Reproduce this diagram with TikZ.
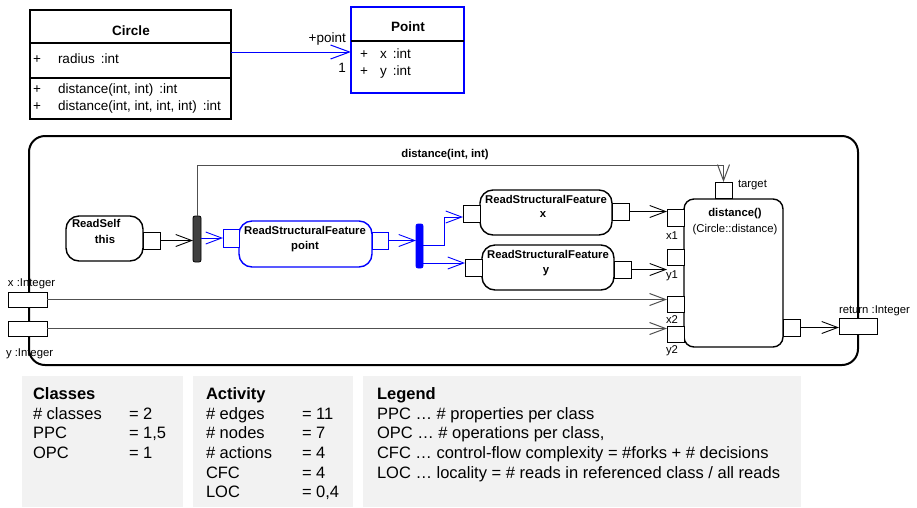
\documentclass[tikz,border=0pt]{standalone}
\usepackage{fontspec}
\setmainfont{Liberation Sans}
\usetikzlibrary{arrows.meta}
\newcommand\fszA{\fontsize{13.5pt}{16pt}\selectfont}
\newcommand\fszB{\fontsize{11.3pt}{13pt}\selectfont}
\newcommand\fszC{\fontsize{16.5pt}{19pt}\selectfont}
\definecolor{panel}{HTML}{F2F2F2}
\definecolor{edgegray}{HTML}{505050}
\definecolor{forkgray}{HTML}{404040}
\definecolor{umlblue}{HTML}{0000FF}
\begin{document}
\begin{tikzpicture}[x=1pt,y=-1pt,
  box/.style={draw, inner sep=0pt, outer sep=0pt, anchor=north west},
  cls/.style={box, line width=1.2pt},
  action/.style={box, line width=1.4pt, rounded corners=13pt},
  pin/.style={box, fill=white, line width=0.9pt},
  fork/.style={box, line width=0.8pt, rounded corners=2pt},
  txt/.style={inner sep=0pt, outer sep=0pt, anchor=base west},
  ctxt/.style={inner sep=0pt, outer sep=0pt, anchor=base},
  arr/.style={-{Straight Barb[length=16pt,width=12pt]}, line width=0.9pt},
  longarr/.style={arr, draw=edgegray, line width=1pt},
  fa/.style={font=\fszA},
  fab/.style={font=\fszA\bfseries},
  fb/.style={font=\fszB},
  fbb/.style={font=\fszB\bfseries},
  fc/.style={font=\fszC},
  fcb/.style={font=\fszC\bfseries}]
\useasboundingbox (0,0) rectangle (917,507);

% ---------------- class diagram ----------------
\node[cls, minimum width=201pt, minimum height=109pt] (circle) at (30,10) {};
\draw[line width=1.2pt] ([yshift=-33pt]circle.north west) -- ([yshift=-33pt]circle.north east);
\draw[line width=1.2pt] ([yshift=-68pt]circle.north west) -- ([yshift=-68pt]circle.north east);
\node[ctxt, fab] (circleT) at (131,35) {Circle};
\node[txt, fa] (c1p) at (33,63) {+};
\node[txt, fa] (c1) at (58,63) {radius\hspace{6pt}:int};
\node[txt, fa] (c2p) at (33,93) {+};
\node[txt, fa] (c2) at (58,93) {distance(int, int)\hspace{6pt}:int};
\node[txt, fa] (c3p) at (33,110) {+};
\node[txt, fa] (c3) at (58,110) {distance(int, int, int, int)\hspace{6pt}:int};

\node[cls, draw=umlblue, minimum width=113pt, minimum height=86pt] (point) at (351,7) {};
\draw[line width=1.2pt] ([yshift=-34pt]point.north west) -- ([yshift=-34pt]point.north east);
\node[ctxt, fab] (pointT) at (408,31) {Point};
\node[txt, fa] (p1p) at (360,58) {+};
\node[txt, fa] (p1) at (380,58) {x\hspace{6pt}:int};
\node[txt, fa] (p2p) at (360,75) {+};
\node[txt, fa] (p2) at (380,75) {y\hspace{6pt}:int};

\coordinate (assocL) at (231,52);
\draw[-{Straight Barb[length=19pt,width=14pt]}, umlblue, line width=1pt] (assocL) -- (assocL -| point.west);
\node[inner sep=0pt, anchor=base east, fa] (roleT) at (346,42) {+point};
\node[inner sep=0pt, anchor=base east, fa] (multT) at (346,72) {1};

% ---------------- activity ----------------
\node[box, line width=2pt, rounded corners=16pt, minimum width=829pt, minimum height=229pt] (frame) at (29,136) {};
\node[ctxt, fbb] (actT) at (445,157) {distance(int, int)};

\node[action, minimum width=77pt, minimum height=45pt] (readself) at (66,216) {};
\node[action, draw=umlblue, minimum width=133pt, minimum height=46pt] (rsfp) at (239,221) {};
\node[action, minimum width=132pt, minimum height=45pt] (rsfx) at (480,190) {};
\node[action, minimum width=132pt, minimum height=45pt] (rsfy) at (482,245) {};
\node[action, rounded corners=10pt, minimum width=99pt, minimum height=148pt] (dist) at (684,199) {};

\node[fork, fill=forkgray, minimum width=8pt, minimum height=46pt] (fork1) at (193,216) {};
\node[fork, draw=umlblue, fill=umlblue, minimum width=7pt, minimum height=44pt] (fork2) at (416,224) {};

% pins
\node[pin, minimum width=17pt, minimum height=17pt] (rsPin) at (143,232) {};
\node[pin, draw=umlblue, minimum width=16pt, minimum height=18pt] (rpIn) at (223,229) {};
\node[pin, draw=umlblue, minimum width=16pt, minimum height=17pt] (rpOut) at (372,232) {};
\node[pin, minimum width=17pt, minimum height=17pt] (rxIn) at (463,205) {};
\node[pin, minimum width=17pt, minimum height=17pt] (rxOut) at (612,203) {};
\node[pin, minimum width=17pt, minimum height=17pt] (ryIn) at (465,259) {};
\node[pin, minimum width=17pt, minimum height=17pt] (ryOut) at (614,261) {};
\node[pin, minimum width=17pt, minimum height=16pt] (target) at (715,182) {};
\node[pin, minimum width=17pt, minimum height=17pt] (x1) at (667,209) {};
\node[pin, minimum width=17pt, minimum height=16pt] (y1) at (667,249) {};
\node[pin, minimum width=17pt, minimum height=16pt] (x2) at (667,296) {};
\node[pin, minimum width=17pt, minimum height=16pt] (y2) at (667,326) {};
\node[pin, minimum width=17pt, minimum height=17pt] (dOut) at (783,319) {};
\node[pin, minimum width=38pt, minimum height=16pt] (ret) at (839,318) {};
\node[pin, minimum width=39pt, minimum height=15pt] (xIn) at (8,292) {};
\node[pin, minimum width=39pt, minimum height=15pt] (yIn) at (8,321) {};

% connectors
\coordinate (topline) at (0,165);
\coordinate (brX) at (444,245);
\coordinate (rxY) at (0,217);
\coordinate (ryY) at (0,263);
\draw[arr] (rsPin.east) -- (rsPin.east -| fork1.west);
\draw[longarr] (fork1.north) -- (fork1.north |- topline) -| (target.north);
\draw[arr, umlblue] (fork1.east |- rpIn) -- (rpIn.west);
\draw[arr, umlblue] (rpOut.east) -- (rpOut.east -| fork2.west);
\draw[arr, umlblue] (fork2.east |- brX) -- (brX) |- (rxIn.west |- rxY);
\draw[arr, umlblue] (fork2.east |- ryY) -- (ryIn.west |- ryY);
\draw[arr] (rxOut.east) -- (rxOut.east -| x1.west);
\draw[arr] (ryOut.east) -- (ryOut.east -| y1.west);
\draw[longarr] (xIn.east) -- (xIn.east -| x2.west);
\draw[longarr] (yIn.east) -- (yIn.east -| y2.west);
\draw[arr] (dOut.east) -- (dOut.east -| ret.west);

% action texts
\node[txt, fbb] (rsT1) at (72,227) {ReadSelf};
\node[ctxt, fbb] (rsT2) at (105,243) {this};
\node[ctxt, fbb] (rpT1) at (305,234) {ReadStructuralFeature};
\node[ctxt, fbb] (rpT2) at (305,249) {point};
\node[ctxt, fbb] (rxT1) at (546,203) {ReadStructuralFeature};
\node[ctxt, fbb] (rxT2) at (543,217) {x};
\node[ctxt, fbb] (ryT1) at (548,258) {ReadStructuralFeature};
\node[ctxt, fbb] (ryT2) at (546,273) {y};
\node[ctxt, fbb] (dT1) at (735,216) {distance()};
\node[ctxt, fb] (dT2) at (735,232) {(Circle::distance)};

% pin labels
\node[txt, fb] (targetL) at (738,187) {target};
\node[txt, fb] (x1L) at (666,239) {x1};
\node[txt, fb] (y1L) at (666,278) {y1};
\node[txt, fb] (x2L) at (666,323) {x2};
\node[txt, fb] (y2L) at (666,353) {y2};
\node[txt, fb] (retL) at (839,313) {return :Integer};
\node[txt, fb] (xInL) at (8,286) {x :Integer};
\node[txt, fb] (yInL) at (6,356) {y :Integer};

% ---------------- metric panels ----------------
\fill[panel] (22,376) rectangle (183,507);
\fill[panel] (193,376) rectangle (353,507);
\fill[panel] (363,376) rectangle (801,507);

\node[txt, fcb] (clsH) at (33,399) {Classes};
\node[txt, fc] (clsA) at (33,419) {\# classes};
\node[txt, fc] (clsAv) at (129,419) {= 2};
\node[txt, fc] (clsB) at (33,438.5) {PPC};
\node[txt, fc] (clsBv) at (129,438.5) {= 1,5};
\node[txt, fc] (clsC) at (33,458) {OPC};
\node[txt, fc] (clsCv) at (129,458) {= 1};

\node[txt, fcb] (actH) at (206,399) {Activity};
\node[txt, fc] (actA) at (206,419) {\# edges};
\node[txt, fc] (actAv) at (302,419) {= 11};
\node[txt, fc] (actB) at (206,438.5) {\# nodes};
\node[txt, fc] (actBv) at (302,438.5) {= 7};
\node[txt, fc] (actC) at (206,458) {\# actions};
\node[txt, fc] (actCv) at (302,458) {= 4};
\node[txt, fc] (actD) at (206,478) {CFC};
\node[txt, fc] (actDv) at (302,478) {= 4};
\node[txt, fc] (actE) at (206,497) {LOC};
\node[txt, fc] (actEv) at (302,497) {= 0,4};

\node[txt, fcb] (legH) at (377,399) {Legend};
\node[txt, fc] (legA) at (377,419) {PPC … \# properties per class};
\node[txt, fc] (legB) at (377,438.5) {OPC … \# operations per class,};
\node[txt, fc] (legC) at (377,458) {CFC … control-flow complexity = \#forks + \# decisions};
\node[txt, fc] (legD) at (377,478) {LOC … locality = \# reads in referenced class / all reads};
\end{tikzpicture}
\end{document}
